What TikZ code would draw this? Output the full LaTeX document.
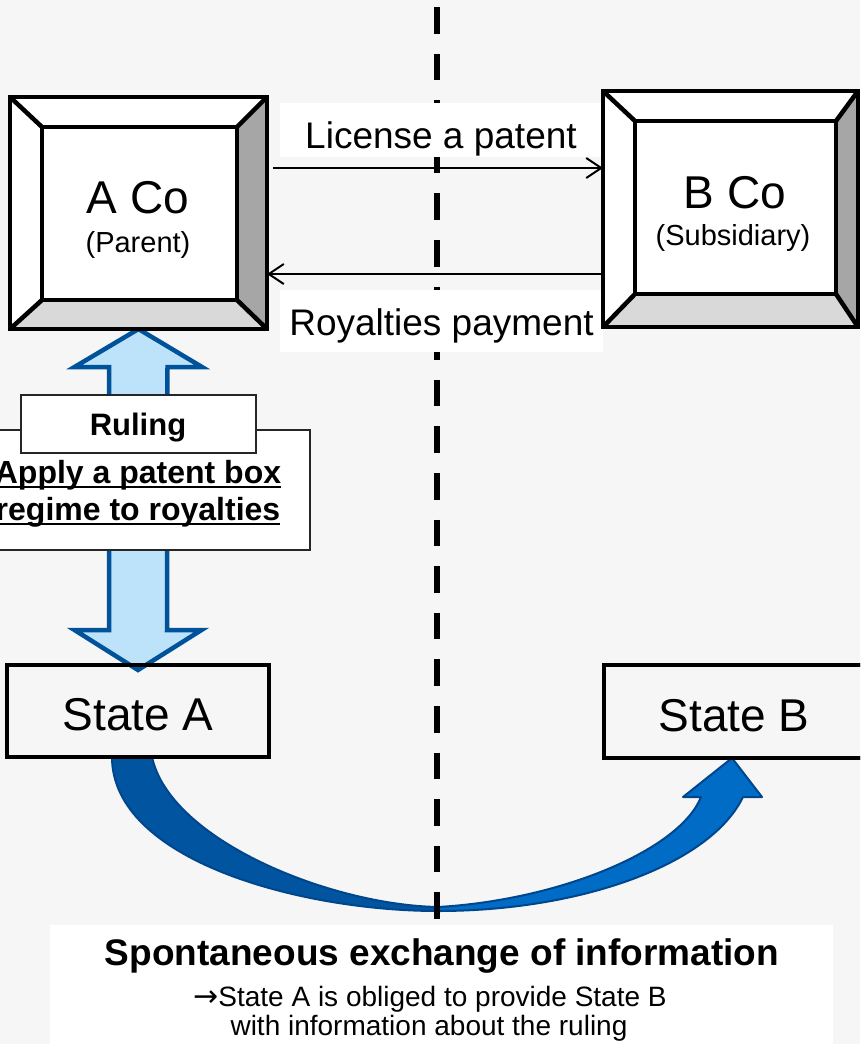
\documentclass[tikz,border=0pt]{standalone}
\usepackage{fontspec}
\setmainfont{Liberation Sans}
\newfontfamily\arrowfont{DejaVu Sans}
\usetikzlibrary{calc,arrows.meta}

\definecolor{bgpaper}{RGB}{246,246,246}
\definecolor{bevelside}{RGB}{166,166,166}
\definecolor{bevelbase}{RGB}{217,217,217}
\definecolor{skyfill}{RGB}{189,227,250}
\definecolor{navyline}{RGB}{0,82,155}
\definecolor{bandback}{RGB}{0,84,160}
\definecolor{bandfront}{RGB}{0,108,198}
\definecolor{bandline}{RGB}{0,70,140}
\definecolor{framegray}{RGB}{38,38,38}

\newcommand\fsz[1]{\fontsize{#1pt}{#1pt}\selectfont}

% bevelled company box: node name, insets left/top/right/bottom
\newcommand\drawbevel[5]{%
  \coordinate (#1-i1) at ($(#1.north west)+(#2,#3)$);
  \coordinate (#1-i2) at ($(#1.north east)+(-#4,#3)$);
  \coordinate (#1-i3) at ($(#1.south east)+(-#4,-#5)$);
  \coordinate (#1-i4) at ($(#1.south west)+(#2,-#5)$);
  \fill[white] (#1.north west) -- (#1.north east) -- (#1-i2) -- (#1-i1) -- cycle;
  \fill[white] (#1.north west) -- (#1-i1) -- (#1-i4) -- (#1.south west) -- cycle;
  \fill[bevelside] (#1.north east) -- (#1.south east) -- (#1-i3) -- (#1-i2) -- cycle;
  \fill[bevelbase] (#1.south west) -- (#1-i4) -- (#1-i3) -- (#1.south east) -- cycle;
  \fill[white] (#1-i1) rectangle (#1-i3);
  \draw[bevelline] (#1-i1) rectangle (#1-i3);
  \draw[bevelline] (#1.north west) -- (#1-i1) (#1.north east) -- (#1-i2)
                   (#1.south east) -- (#1-i3) (#1.south west) -- (#1-i4);
  \draw[bevelline] (#1.north west) rectangle (#1.south east);
}

\tikzset{
  frame/.style={rectangle, inner sep=0pt, outer sep=0pt},
  bevelline/.style={line width=4.5pt, line join=miter, draw=black},
  statebox/.style={frame, draw=black, line width=4.5pt, font=\fsz{46}},
  labelbg/.style={frame, fill=white},
  notebox/.style={frame, fill=white, draw=framegray, line width=1.5pt},
  txt/.style={inner sep=0pt, outer sep=0pt, anchor=base},
  flow/.style={line width=2pt, -{Straight Barb[length=15pt,width=20pt,line width=2pt]}},
  divider/.style={line width=6pt, dash pattern=on 26.6pt off 20pt, line cap=butt},
  blockarrow/.style={fill=skyfill, draw=navyline, line width=4.5pt, line join=miter},
}

\begin{document}
\begin{tikzpicture}[x=1pt, y=-1pt]
\useasboundingbox (0,0) rectangle (860,1044);
\clip (0,0) rectangle (860,1044);
\fill[bgpaper] (0,0) rectangle (860,1044);

% company and state nodes
\node[frame, minimum width=257pt, minimum height=232pt] (aco) at (138.5,213) {};
\node[frame, minimum width=255pt, minimum height=236pt] (bco) at (730.5,209) {};
\node[statebox, minimum width=262pt, minimum height=92pt] (sta) at (138,711) {};
\node[statebox, minimum width=262pt, minimum height=93pt] (stb) at (735,711.5) {};

% curved exchange arrow from State A to State B
\coordinate (cva) at ($(sta.south)+(-26,0)$);
\coordinate (cvb) at ($(sta.south)+(14,0)$);
\coordinate (tip) at ($(stb.south)+(-3,0)$);
\filldraw[fill=bandback, draw=bandline, line width=2pt, line join=round]
  (cva) .. controls (112,860) and (300,911) .. (438,911)
  -- (438,907) .. controls (330,905) and (170,840) .. (cvb) -- cycle;
\filldraw[fill=bandfront, draw=bandline, line width=2pt, line join=round]
  (438,911) .. controls (580,911) and (710,865) .. (743,797)
  -- (762,797) -- (tip) -- (683,797) -- (701,797)
  .. controls (680,850) and (560,900) .. (438,907) -- cycle;

% border between the two states
\coordinate (dtop) at (437,7);
\coordinate (dbot) at (437,919);
\draw[divider] (dtop) -- (dbot);

% white backgrounds of the flow labels and the caption
\node[labelbg, minimum width=323pt, minimum height=54pt] (licbg) at (441.5,130) {};
\node[labelbg, minimum width=323pt, minimum height=62pt] (roybg) at (441.5,321) {};
\node[labelbg, minimum width=783pt, minimum height=122pt] (capbg) at (441.5,986) {};

% ruling arrow between A Co and State A
\draw[blockarrow] (aco.south) -- ++(63.5,38) -- ++(-34.5,0)
  -- ($(sta.north)+(29,-35)$) -- ++(34.5,0) -- ($(sta.north)+(0,5)$)
  -- ++(-63.5,-40) -- ++(34.5,0) -- ($(aco.south)+(-29.5,38)$)
  -- ++(-34.5,0) -- cycle;

% bevelled company boxes
\drawbevel{aco}{32}{30}{30}{29}
\drawbevel{bco}{32}{30}{22}{33}
\node[txt, font=\fsz{46}] (acot) at (138,213) {A Co};
\node[txt, font=\fsz{29}] (acos) at (138,252) {(Parent)};
\node[txt, font=\fsz{46}] (bcot) at (735,208) {B Co};
\node[txt, font=\fsz{29}] (bcos) at (733,245) {(Subsidiary)};

% state boxes redrawn on top of the arrows
\draw[line width=4.5pt] (sta.north west) rectangle (sta.south east);
\draw[line width=4.5pt] (stb.north west) rectangle (stb.south east);
\node[txt, font=\fsz{46}] (stat) at (138,730) {State A};
\node[txt, font=\fsz{46}] (stbt) at (734,731) {State B};

% ruling note boxes
\node[notebox, minimum width=315pt, minimum height=120pt] (apply) at (152.5,490) {};
\node[notebox, minimum width=235pt, minimum height=58pt] (ruling) at (138.5,424) {};
\node[txt, font=\bfseries\fsz{31}] (rulingt) at (138,435) {Ruling};
\node[txt, font=\bfseries\fsz{32}] (ap1) at (138,483) {Apply a patent box};
\node[txt, font=\bfseries\fsz{32}] (ap2) at (138,520) {regime to royalties};
\draw[line width=2.2pt] ($(ap1.base west)+(0,4)$) -- ($(ap1.base east)+(0,4)$);
\draw[line width=2.2pt] ($(ap2.base west)+(0,4)$) -- ($(ap2.base east)+(0,4)$);

% licence and royalty flows
\path (aco.east) ++(6,-45) coordinate (lics);
\path (bco.west) ++(0,65) coordinate (roys);
\draw[flow] (lics) -- (lics -| bco.west);
\draw[flow] (roys) -- (roys -| aco.east);
\node[txt, font=\fsz{37}] (lict) at (441,148) {License a patent};
\node[txt, font=\fsz{37}] (royt) at (441.5,335) {Royalties payment};

% caption
\node[txt, font=\bfseries\fsz{37}] (cap1) at (442,965) {Spontaneous exchange of information};
\node[txt, font=\fsz{28}] (cap2) at (430,1006) {{\arrowfont\fsz{30}→}State A is obliged to provide State B};
\node[txt, font=\fsz{28}] (cap3) at (429,1035) {with information about the ruling};
\end{tikzpicture}
\end{document}
